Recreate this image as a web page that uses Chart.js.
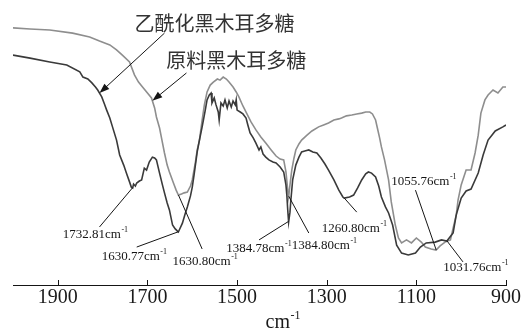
<!DOCTYPE html>
<html>
<head>
<meta charset="utf-8">
<script src="https://cdn.jsdelivr.net/npm/chart.js@4/dist/chart.umd.min.js"></script>
<style>
  html, body { margin: 0; padding: 0; background: #fff; }
  #wrap { width: 522px; height: 332px; }
</style>
</head>
<body>
<div id="wrap"><canvas id="ftir" width="522" height="332"></canvas></div>
<script>
// FTIR spectra, wavenumber (cm-1) vs. transmittance (%)
const acetylWavenumbers = [2000,1962,1918,1880,1851,1844,1833,1824,1816,1811,1802,1796,1791,1784,1778,1769,1762,1753,1747,1740,1736,1733,1731,1727,1724,1718,1713,1707,1702,1696,1689,1684,1680,1673,1667,1662,1656,1651,1644,1638,1633,1631,1629,1622,1616,1611,1604,1600,1596,1589,1584,1578,1571,1567,1562,1558,1556,1551,1547,1542,1540,1536,1531,1527,1522,1518,1513,1509,1504,1502,1500,1493,1487,1480,1476,1471,1464,1458,1451,1447,1442,1436,1429,1420,1413,1404,1396,1391,1389,1387,1385,1382,1380,1376,1369,1362,1356,1349,1340,1331,1322,1313,1304,1296,1284,1273,1264,1261,1249,1240,1231,1222,1213,1207,1200,1191,1184,1178,1169,1162,1153,1144,1133,1118,1102,1091,1078,1058,1044,1032,1018,1011,1000,989,978,962,951,940,924,907,900];
const acetylTransmittance = [83.6,82.5,81.1,80.0,77.5,75.6,74.9,73.5,72.0,70.9,68.4,65.8,63.6,60.7,57.5,52.7,47.3,43.6,40.7,37.5,35.6,35.3,36.7,36.0,37.1,37.8,38.2,42.5,41.8,44.7,46.5,46.2,45.5,40.7,36.7,33.5,29.8,27.3,21.8,20.4,19.6,19.3,20.0,22.5,25.8,28.4,32.4,35.6,40.0,48.4,52.7,57.5,63.6,67.3,69.1,69.8,66.2,68.0,65.5,62.9,60.0,66.2,65.1,67.3,64.4,66.9,64.7,66.9,65.5,67.3,63.6,62.9,62.2,60.7,58.2,55.3,53.5,51.6,49.1,50.2,47.6,46.5,45.5,44.7,44.4,42.9,41.1,36.4,32.7,27.3,22.9,26.5,30.9,38.2,43.6,46.5,48.4,48.7,49.1,48.4,48.0,46.2,44.0,41.8,38.2,34.5,32.0,31.6,32.0,32.7,35.3,38.2,40.4,41.1,40.7,39.3,36.0,32.0,28.4,26.2,21.8,14.5,11.6,10.9,11.6,13.8,15.3,15.6,16.4,16.0,18.9,25.5,31.6,34.2,34.9,40.7,47.3,52.7,56.0,57.5,58.2];

const rawWavenumbers = [2000,1962,1918,1867,1829,1807,1784,1769,1756,1740,1729,1720,1711,1700,1691,1684,1680,1673,1669,1662,1656,1651,1642,1636,1631,1624,1618,1611,1604,1600,1593,1589,1584,1578,1573,1567,1560,1553,1544,1538,1531,1524,1518,1509,1502,1496,1487,1478,1469,1458,1447,1436,1424,1413,1404,1396,1391,1387,1385,1382,1378,1373,1369,1362,1356,1344,1333,1318,1307,1296,1284,1273,1267,1256,1244,1233,1222,1213,1204,1198,1191,1187,1182,1178,1171,1162,1156,1147,1140,1133,1122,1111,1100,1089,1080,1067,1056,1047,1036,1024,1018,1011,1007,1000,989,978,969,962,956,947,940,929,918,907,900];
const rawTransmittance = [93.5,93.1,92.7,91.6,90.2,88.7,87.3,85.5,83.6,81.1,76.4,73.8,72.0,69.8,68.0,64.4,61.1,57.1,53.8,48.0,43.6,41.1,37.1,34.5,32.7,33.1,33.5,33.8,36.0,38.2,44.7,49.1,52.7,60.0,65.5,70.2,72.7,73.8,74.9,74.5,75.6,74.9,73.8,72.0,70.2,68.4,65.1,62.2,59.3,56.4,53.8,51.6,49.1,46.9,45.8,45.5,41.1,34.5,32.0,36.4,41.8,46.2,49.1,51.3,52.7,54.5,56.0,57.5,58.2,58.9,60.0,60.4,60.7,61.5,61.8,62.2,62.5,62.9,62.9,62.2,60.0,57.1,53.5,50.2,45.5,38.2,30.2,21.8,17.1,15.3,16.4,15.3,17.1,15.6,13.8,13.1,12.7,14.2,15.6,16.4,20.7,25.5,30.9,36.4,41.8,41.8,48.0,54.5,62.5,67.3,69.1,70.9,69.8,72.0,72.0];

const seriesNames = ['乙酰化黑木耳多糖', '原料黑木耳多糖'];
const tickWavenumbers = [1900, 1700, 1500, 1300, 1100, 900];

// assigned absorption bands and the spectrum each belongs to (0 = acetylated, 1 = raw)
const peakWavenumbers = [1732.81, 1630.77, 1630.80, 1384.78, 1384.80, 1260.80, 1055.76, 1031.76];
const peakSeries = [0, 0, 1, 0, 1, 0, 1, 0];

// where each band label sits: [text left cm-1, text mid %T, leader start cm-1, leader start %T]
const peakLabelPlacement = [
  [1889, 18.5, 1807, 21.1],
  [1802, 10.5, 1724, 13.8],
  [1644, 8.4, 1578, 13.1],
  [1524, 13.1, 1451, 16.4],
  [1378, 14.2, 1340, 18.9],
  [1311, 20.4, 1233, 26.5],
  [1156, 37.5, 1102, 34.5],
  [1040, 6.5, 996, 8.4]
];
// series name labels: [text left cm-1, text mid %T, arrow start cm-1, arrow start %T, arrow tip cm-1]
const nameLabelPlacement = [
  [1729, 95.3, 1662, 91.6, 1807],
  [1658, 81.8, 1613, 77.1, 1689]
];

const seriesWn = [acetylWavenumbers, rawWavenumbers];
const seriesT = [acetylTransmittance, rawTransmittance];
const lineColors = ['#3a3a3a', '#8e8e8e'];

function toPoints(wn, t) {
  return wn.map((v, i) => ({ x: v, y: t[i] }));
}

// linear interpolation of a spectrum (wavenumbers descending)
function transmittanceAt(s, wn) {
  const xs = seriesWn[s], ys = seriesT[s];
  for (let i = 0; i < xs.length - 1; i++) {
    if (wn <= xs[i] && wn >= xs[i + 1]) {
      const f = (xs[i] - wn) / (xs[i] - xs[i + 1]);
      return ys[i] + f * (ys[i + 1] - ys[i]);
    }
  }
  return ys[ys.length - 1];
}

function drawSuperLabel(ctx, text, x, y, size, family) {
  ctx.textAlign = 'left';
  ctx.textBaseline = 'middle';
  ctx.font = size + 'px ' + family;
  ctx.fillText(text, x, y);
  const w = ctx.measureText(text).width;
  ctx.font = Math.round(size * 0.58) + 'px ' + family;
  ctx.fillText('-1', x + w + 0.5, y - size * 0.36);
}

const annotations = {
  id: 'annotations',
  afterDatasetsDraw(chart) {
    const { ctx, scales: { x, y }, chartArea } = chart;
    ctx.save();
    ctx.strokeStyle = '#151515';
    ctx.fillStyle = '#151515';
    ctx.lineWidth = 1;

    // upward tick marks on the wavenumber axis
    tickWavenumbers.forEach(v => {
      const px = Math.round(x.getPixelForValue(v)) + 0.5;
      ctx.beginPath();
      ctx.moveTo(px, chartArea.bottom);
      ctx.lineTo(px, chartArea.bottom - 5);
      ctx.stroke();
    });

    // band labels with leader lines
    const serif = '"Liberation Serif", "Times New Roman", serif';
    peakWavenumbers.forEach((wn, i) => {
      const [tx, ty, lx, ly] = peakLabelPlacement[i];
      const endX = x.getPixelForValue(wn);
      const endY = y.getPixelForValue(transmittanceAt(peakSeries[i], wn));
      ctx.beginPath();
      ctx.moveTo(x.getPixelForValue(lx), y.getPixelForValue(ly));
      ctx.lineTo(endX, endY);
      ctx.stroke();
      drawSuperLabel(ctx, wn.toFixed(2) + 'cm', x.getPixelForValue(tx), y.getPixelForValue(ty), 13, serif);
    });

    // series names with arrows
    nameLabelPlacement.forEach((p, i) => {
      const [tx, ty, ax, ay, tipWn] = p;
      const sx = x.getPixelForValue(ax), sy = y.getPixelForValue(ay);
      const ex = x.getPixelForValue(tipWn), ey = y.getPixelForValue(transmittanceAt(i, tipWn));
      const ang = Math.atan2(ey - sy, ex - sx);
      const len = 10, half = 3.6;
      ctx.beginPath();
      ctx.moveTo(sx, sy);
      ctx.lineTo(ex - Math.cos(ang) * len * 0.8, ey - Math.sin(ang) * len * 0.8);
      ctx.stroke();
      ctx.beginPath();
      ctx.moveTo(ex, ey);
      ctx.lineTo(ex - Math.cos(ang) * len - Math.sin(ang) * half, ey - Math.sin(ang) * len + Math.cos(ang) * half);
      ctx.lineTo(ex - Math.cos(ang) * len + Math.sin(ang) * half, ey - Math.sin(ang) * len - Math.cos(ang) * half);
      ctx.closePath();
      ctx.fill();
      ctx.fillStyle = '#333333';
      ctx.font = '20px "Noto Sans CJK SC"';
      ctx.textAlign = 'left';
      ctx.textBaseline = 'middle';
      ctx.fillText(seriesNames[i], x.getPixelForValue(tx), y.getPixelForValue(ty));
      ctx.fillStyle = '#151515';
    });

    // axis title
    const cx = (chartArea.left + chartArea.right) / 2 + 6;
    ctx.fillStyle = '#1a1a1a';
    drawSuperLabel(ctx, 'cm', cx, chartArea.bottom + 38, 20, serif);
    ctx.restore();
  }
};

new Chart(document.getElementById('ftir'), {
  type: 'line',
  data: {
    datasets: [0, 1].map(s => ({
      label: seriesNames[s],
      data: toPoints(seriesWn[s], seriesT[s]),
      borderColor: lineColors[s],
      borderWidth: 1.6,
      pointRadius: 0,
      tension: 0,
      fill: false
    }))
  },
  options: {
    responsive: false,
    animation: false,
    devicePixelRatio: 1,
    layout: { padding: { left: 13, right: 14, top: 10, bottom: 0 } },
    plugins: { legend: { display: false }, tooltip: { enabled: false } },
    scales: {
      x: {
        type: 'linear',
        reverse: true,
        min: 900,
        max: 2000,
        afterBuildTicks: s => { s.ticks = tickWavenumbers.map(v => ({ value: v })); },
        afterFit: s => { s.height = 47; },
        ticks: {
          autoSkip: false,
          maxRotation: 0,
          padding: 1,
          color: '#1a1a1a',
          font: { family: '"Liberation Serif", serif', size: 20 },
          callback: v => String(v)
        },
        grid: { display: false, drawTicks: false },
        border: { display: true, color: '#151515', width: 1 }
      },
      y: { display: false, min: 0, max: 100 }
    }
  },
  plugins: [annotations]
});
</script>
</body>
</html>
